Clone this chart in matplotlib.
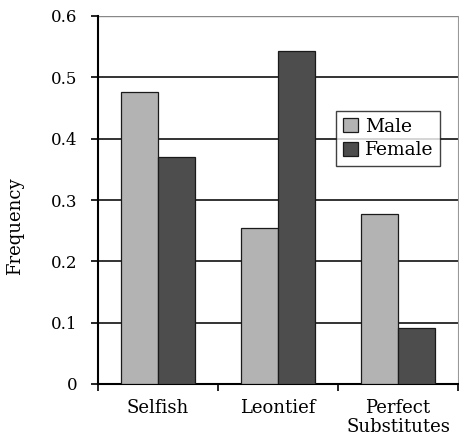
import matplotlib
matplotlib.use("Agg")
import matplotlib.pyplot as plt
import numpy as np

categories = ["Selfish", "Leontief", "Perfect\nSubstitutes"]
male = [0.476, 0.254, 0.277]
female = [0.370, 0.543, 0.091]
yticks = [0, 0.1, 0.2, 0.3, 0.4, 0.5, 0.6]
ytick_labels = ["0", "0.1", "0.2", "0.3", "0.4", "0.5", "0.6"]

plt.rcParams['font.family'] = ['DejaVu Serif']
fig = plt.figure(figsize=(4.59, 4.46), dpi=100)
ax = fig.add_axes([98/459, 1-384/446, 360/459, 368/446])

x = np.arange(len(categories))
w = 0.31
ax.bar(x - w/2, male, width=w, color="#b3b3b3", edgecolor="#1a1a1a", linewidth=0.9, label="Male", zorder=3)
ax.bar(x + w/2, female, width=w, color="#4d4d4d", edgecolor="#1a1a1a", linewidth=0.9, label="Female", zorder=3)

ax.set_xlim(-0.5, 2.5)
ax.set_ylim(0, 0.6)
ax.set_yticks(yticks)
ax.set_yticklabels(ytick_labels, fontsize=12)
for yv in yticks[1:-1]:
    ax.axhline(yv, color="#111111", linewidth=1.2, zorder=1)
ax.axhline(0.6, color="#888888", linewidth=1.0, zorder=1)

ax.set_xticks([-0.5, 0.5, 1.5, 2.5])
ax.set_xticklabels([])
ax.tick_params(axis='x', length=5, width=1.2, direction='out')
ax.tick_params(axis='y', length=5, width=1.2, direction='out', pad=10)
for i, c in enumerate(categories):
    ax.text(i, -0.025, c, ha='center', va='top', fontsize=13, transform=ax.transData, linespacing=1.05)

ax.spines['left'].set_linewidth(1.5)
ax.spines['bottom'].set_linewidth(1.5)
ax.spines['top'].set_visible(False)
ax.spines['right'].set_color("#999999")
ax.spines['right'].set_linewidth(0.8)

ax.set_ylabel("Frequency", fontsize=13)
ax.yaxis.set_label_coords((24-98)/360, (384-226)/368)

leg = ax.legend(loc='upper left', bbox_to_anchor=((336-98)/360, (384-111)/368),
                fontsize=13.5, frameon=True, fancybox=False, edgecolor="#111111",
                handlelength=0.8, handleheight=0.8, handletextpad=0.4,
                borderpad=0.35, labelspacing=0.3, borderaxespad=0)
leg.get_frame().set_linewidth(1.0)
leg.set_zorder(5)

fig.savefig("out.png", dpi=100, facecolor="white")
